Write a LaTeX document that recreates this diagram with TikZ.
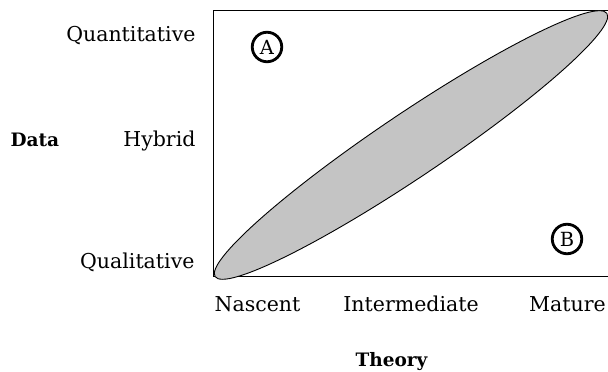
\documentclass[tikz,border=0pt]{standalone}
\usepackage{fontspec}
\setmainfont{DejaVu Serif}
\begin{document}
\begin{tikzpicture}[x=1pt,y=1pt,
  lab/.style={font=\fontsize{20.5}{24}\selectfont},
  tit/.style={font=\fontsize{18.5}{22}\selectfont\bfseries},
  zona/.style={circle,draw,line width=2.8pt,inner sep=0pt,minimum size=29.5pt,font=\fontsize{19.5}{22}\selectfont}]
\useasboundingbox (0,0) rectangle (608,372);
% assi
\draw[line width=1pt] (608,361.5) -- (213.5,361.5) -- (213.5,95.5) -- (608,95.5);
% ellisse
\filldraw[fill=black!23,line width=0.9pt,rotate around={33.9:(411,227)}] (411,227) ellipse (236 and 32);
% asse verticale
\node[lab,anchor=base east] (quant) at (199,330) {Quantitative};
\node[lab,anchor=base east] (hyb) at (199,225) {Hybrid};
\node[lab,anchor=base east] (qual) at (198,103) {Qualitative};
\node[tit,anchor=base west] (data) at (7,225) {Data};
% asse orizzontale
\node[lab,anchor=base] (nasc) at (257.5,60) {Nascent};
\node[lab,anchor=base] (inter) at (411,60) {Intermediate};
\node[lab,anchor=base] (mat) at (567.5,60) {Mature};
\node[tit,anchor=base] (theo) at (391.5,5) {Theory};
% zone
\node[zona] (zA) at (267,325) {A};
\node[zona] (zB) at (567,133) {B};
\end{tikzpicture}
\end{document}
